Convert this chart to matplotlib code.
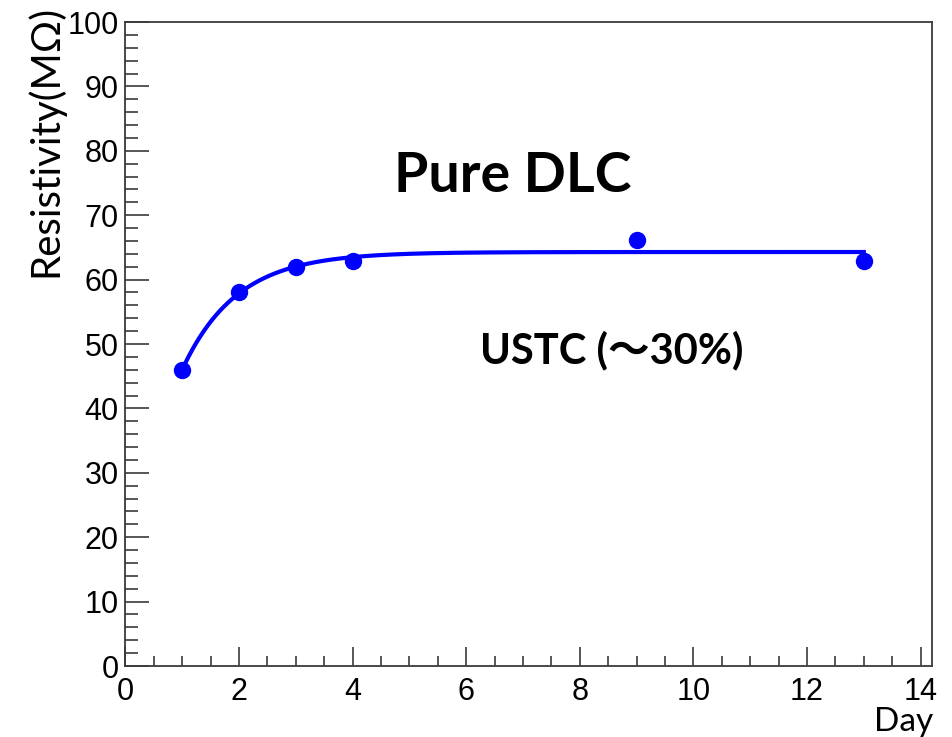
import numpy as np
import matplotlib
matplotlib.use("Agg")
import matplotlib.pyplot as plt
from matplotlib.ticker import MultipleLocator

# measured resistivity vs day
days = [1, 2, 3, 4, 9, 13]
resistivity = [46.0, 58.1, 62.0, 62.9, 66.1, 62.9]

title_text = "Pure DLC"
note_text = "USTC (～30%)"
x_title = "Day"
y_title = "Resistivity(MΩ)"


def fit_saturation(x, y):
    # y = A - B*exp(-x/tau), scan tau and solve A, B by least squares
    x = np.asarray(x, float)
    y = np.asarray(y, float)
    best = None
    for tau in np.linspace(0.2, 6.0, 2000):
        M = np.column_stack([np.ones_like(x), -np.exp(-x / tau)])
        coef, res, _, _ = np.linalg.lstsq(M, y, rcond=None)
        err = np.sum((M @ coef - y) ** 2)
        if best is None or err < best[0]:
            best = (err, coef[0], coef[1], tau)
    return best[1:]


A, B, tau = fit_saturation(days, resistivity)
xf = np.linspace(days[0], days[-1], 400)
yf = A - B * np.exp(-xf / tau)

W, H = 953, 737
fig = plt.figure(figsize=(W / 100, H / 100), dpi=100)
ax = fig.add_axes([125.5 / W, 1 - 666 / H, (932 - 125.5) / W, (666 - 22) / H])

ax.plot(xf, yf, color="#0000ff", lw=3, zorder=2)
ax.plot(days, resistivity, "o", color="#0000ff", ms=11.5, zorder=3)

ax.set_xlim(0, 14.2)
ax.set_ylim(0, 100)
ax.xaxis.set_major_locator(MultipleLocator(2))
ax.xaxis.set_minor_locator(MultipleLocator(0.5))
ax.yaxis.set_major_locator(MultipleLocator(10))
ax.yaxis.set_minor_locator(MultipleLocator(2))

for s in ax.spines.values():
    s.set_color("#3a3a3a")
    s.set_linewidth(1.3)

ax.tick_params(axis="both", which="both", direction="in", colors="#3a3a3a",
               width=1.2, labelcolor="black")
ax.tick_params(axis="y", which="major", length=17, pad=5)
ax.tick_params(axis="y", which="minor", length=9)
ax.tick_params(axis="x", which="major", length=14, pad=8)
ax.tick_params(axis="x", which="minor", length=7)
for lab in ax.get_xticklabels() + ax.get_yticklabels():
    lab.set_family("Liberation Sans")
    lab.set_fontsize(22)

fam = ["Lato", "Noto Sans CJK SC"]
fig.text(512.5 / W, 1 - 192 / H, title_text, ha="center", va="baseline",
         fontsize=40, fontweight="bold", family=fam)
fig.text(612 / W, 1 - 363 / H, note_text, ha="center", va="baseline",
         fontsize=30, fontweight="bold", family=fam)
fig.text(933 / W, 1 - 731 / H, x_title, ha="right", va="baseline",
         fontsize=24, family=fam)
fig.text(45 / W, 1 - 5 / H, y_title, ha="center", va="top", rotation=90,
         fontsize=29, family=fam)

fig.savefig("out.png", dpi=100)
